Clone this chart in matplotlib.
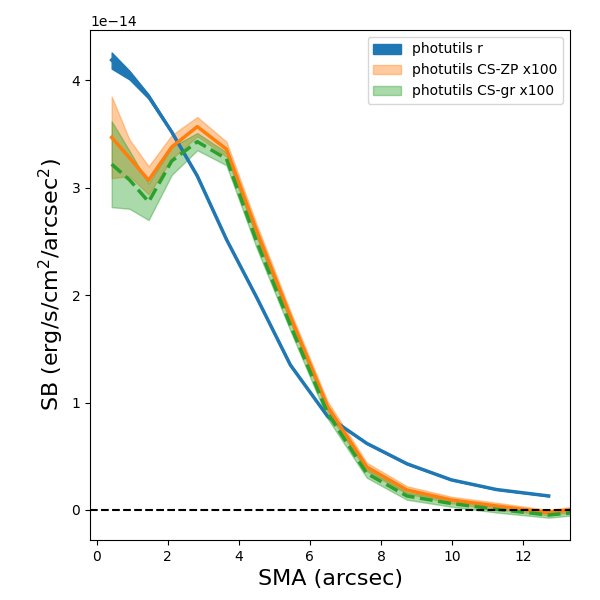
import numpy as np
import matplotlib
matplotlib.use('Agg')
import matplotlib.pyplot as plt

# SMA values (arcsec)
sma_r = [0.42, 0.92, 1.46, 2.11, 2.83, 3.65, 4.5, 5.45, 6.5, 7.6, 8.73, 9.98, 11.25, 12.72]
sma_cs = [0.42, 0.92, 1.46, 2.11, 2.83, 3.65, 4.5, 5.45, 6.5, 7.6, 8.73, 9.98, 11.25, 12.72, 14.2]

# photutils r (units of 1e-14)
sb_r = [4.19, 4.05, 3.85, 3.52, 3.11, 2.52, 1.98, 1.35, 0.87, 0.62, 0.43, 0.28, 0.19, 0.13]
sb_r_lo = [4.11, 4.01, 3.83, 3.51, 3.10, 2.515, 1.975, 1.345, 0.865, 0.615, 0.425, 0.277, 0.188, 0.128]
sb_r_hi = [4.26, 4.09, 3.87, 3.53, 3.12, 2.525, 1.985, 1.355, 0.875, 0.625, 0.435, 0.283, 0.192, 0.132]

# photutils CS-ZP x100
sb_zp = [3.47, 3.28, 3.07, 3.38, 3.57, 3.36, 2.60, 1.80, 0.96, 0.40, 0.186, 0.093, 0.037, -0.025, 0.04]
sb_zp_err = [0.38, 0.17, 0.13, 0.11, 0.09, 0.07, 0.06, 0.05, 0.05, 0.04, 0.035, 0.03, 0.03, 0.025, 0.025]

# photutils CS-gr x100
sb_gr = [3.22, 3.075, 2.87, 3.25, 3.43, 3.27, 2.50, 1.72, 0.90, 0.34, 0.13, 0.06, 0.006, -0.047, 0.0]
sb_gr_err = [0.40, 0.27, 0.17, 0.13, 0.08, 0.06, 0.06, 0.05, 0.05, 0.04, 0.035, 0.03, 0.03, 0.025, 0.025]

scale = 1e-14
sb_r = np.array(sb_r) * scale
sb_r_lo = np.array(sb_r_lo) * scale
sb_r_hi = np.array(sb_r_hi) * scale
sb_zp = np.array(sb_zp) * scale
sb_zp_err = np.array(sb_zp_err) * scale
sb_gr = np.array(sb_gr) * scale
sb_gr_err = np.array(sb_gr_err) * scale

fig = plt.figure(figsize=(6, 6), dpi=100)
ax = fig.add_axes([0.15, 0.1, 0.8, 0.85])

ax.fill_between(sma_r, sb_r_lo, sb_r_hi, color='C0', label='photutils r')
ax.plot(sma_r, sb_r, color='C0', lw=2.5)

ax.fill_between(sma_cs, sb_zp - sb_zp_err, sb_zp + sb_zp_err, color='C1', alpha=0.4,
                label='photutils CS-ZP x100')
ax.plot(sma_cs, sb_zp, color='C1', lw=2.5)

ax.fill_between(sma_cs, sb_gr - sb_gr_err, sb_gr + sb_gr_err, color='C2', alpha=0.4,
                label='photutils CS-gr x100')
ax.plot(sma_cs, sb_gr, color='C2', lw=2.5, ls='--')

ax.axhline(0, color='k', ls='--', lw=1.5)

ax.set_xlim(-0.19, 13.32)
ax.set_ylim(-0.28e-14, 4.47e-14)
ax.set_xlabel('SMA (arcsec)', fontsize=16)
ax.set_ylabel('SB (erg/s/cm$^2$/arcsec$^2$)', fontsize=16)
ax.legend(loc='upper right')

fig.savefig('out.png', dpi=100)
